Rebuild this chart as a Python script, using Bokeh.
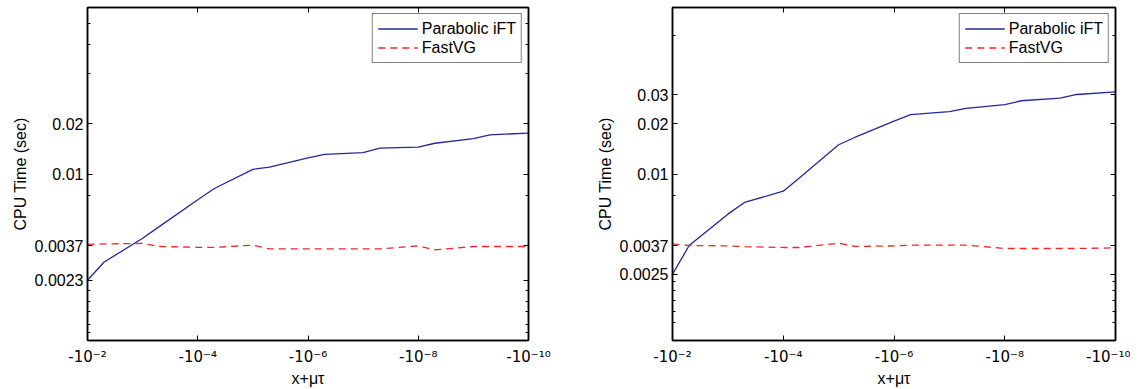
from bokeh.plotting import figure
from bokeh.layouts import row
from bokeh.models import Range1d, FixedTicker, LogAxis
from bokeh.embed import file_html
from bokeh.resources import INLINE

# ---- data ----
x_values = [1e-2, 5e-3, 1e-3, 5e-4, 1e-4, 5e-5, 1e-5, 5e-6, 1e-6,
            5e-7, 1e-7, 5e-8, 1e-8, 5e-9, 1e-9, 5e-10, 1e-10]

left_parabolic = [0.0023, 0.00296, 0.00411, 0.00483, 0.00701, 0.00818, 0.01067, 0.0110, 0.0125,
                  0.0131, 0.01343, 0.0143, 0.01449, 0.0153, 0.0163, 0.0172, 0.0176]
left_fastvg = [0.00378, 0.0038, 0.00383, 0.00367, 0.00363, 0.00362, 0.00374, 0.00355, 0.00355,
               0.00355, 0.00355, 0.00355, 0.0037, 0.0035, 0.00367, 0.00367, 0.00367]

right_parabolic = [0.0025, 0.00372, 0.00574, 0.00675, 0.00788, 0.00952, 0.01498, 0.01663, 0.02075,
                   0.0227, 0.02366, 0.02477, 0.02607, 0.02754, 0.02858, 0.03003, 0.03117]
right_fastvg = [0.0038, 0.00372, 0.0037, 0.00366, 0.00362, 0.00362, 0.00384, 0.00367, 0.0037,
                0.00374, 0.00374, 0.00374, 0.00357, 0.00357, 0.00357, 0.00357, 0.0036]

x_ticks = [1e-2, 1e-4, 1e-6, 1e-8, 1e-10]
x_tick_labels = ["-10\u207b\u00b2", "-10\u207b\u2074", "-10\u207b\u2076", "-10\u207b\u2078", "-10\u207b\u00b9\u2070"]

left_y_ticks = [0.0023, 0.0037, 0.01, 0.02]
left_y_labels = ["0.0023", "0.0037", "0.01", "0.02"]
left_y_minor = [0.00112, 0.00125, 0.0015, 0.00172, 0.002, 0.0074, 0.04, 0.06, 0.08]

right_y_ticks = [0.0025, 0.0037, 0.01, 0.02, 0.03]
right_y_labels = ["0.0025", "0.0037", "0.01", "0.02", "0.03"]
right_y_minor = [0.00128, 0.0015, 0.00174, 0.002, 0.00227, 0.0074, 0.068]

series_names = ["Parabolic iFT", "FastVG"]
x_label = "x+\u03bc\u03c4"
y_label = "CPU Time (sec)"

FONT = "Liberation Sans"
XFONT = "DejaVu Sans"
FS = "16px"
BLUE = "#24289a"
RED = "#f02828"


def style_axis(ax, ticker, labels, font_size=FS, standoff=4, font=FONT):
    ax.ticker = ticker
    ax.axis_line_color = "black"
    ax.axis_line_width = 1.5
    ax.major_tick_line_color = "black"
    ax.minor_tick_line_color = "black"
    ax.major_tick_in = 5
    ax.major_tick_out = 0
    ax.minor_tick_in = 3
    ax.minor_tick_out = 0
    ax.major_label_text_font = font
    ax.major_label_text_color = "black"
    ax.major_label_text_font_size = font_size
    ax.major_label_standoff = standoff
    ax.major_label_overrides = dict(zip(ticker.ticks, labels))


def make_panel(parabolic, fastvg, y_ticks, y_labels, y_minor, border_left, border_right, frame_w):
    p = figure(x_axis_type="log", y_axis_type="log",
               x_range=Range1d(1e-2, 1e-10), y_range=Range1d(0.001, 0.1),
               frame_width=frame_w, frame_height=333,
               min_border_left=border_left, min_border_right=border_right,
               min_border_top=7, min_border_bottom=0,
               output_backend="svg", toolbar_location=None)
    p.xgrid.visible = False
    p.ygrid.visible = False
    p.outline_line_color = "black"
    p.outline_line_width = 1.5
    p.background_fill_color = "white"
    p.border_fill_color = "white"

    xax = p.xaxis[0]
    yax = p.yaxis[0]
    style_axis(xax, FixedTicker(ticks=x_ticks), x_tick_labels, font_size="15px", standoff=7, font=XFONT)
    style_axis(yax, FixedTicker(ticks=y_ticks, minor_ticks=y_minor), y_labels)

    xax.axis_label = x_label
    yax.axis_label = y_label
    for ax in (xax, yax):
        ax.axis_label_text_font = FONT
        ax.axis_label_text_font_size = FS
        ax.axis_label_text_font_style = "normal"
        ax.axis_label_text_color = "black"
    xax.axis_label_standoff = 1
    yax.axis_label_standoff = 3

    top = LogAxis()
    style_axis(top, FixedTicker(ticks=x_ticks), [""] * len(x_ticks), font_size="1px", standoff=0)
    p.add_layout(top, "above")
    right = LogAxis()
    style_axis(right, FixedTicker(ticks=y_ticks, minor_ticks=y_minor), [""] * len(y_ticks),
               font_size="1px", standoff=0)
    p.add_layout(right, "right")

    p.line(x_values, parabolic, line_color=BLUE, line_width=1.3, legend_label=series_names[0])
    p.line(x_values, fastvg, line_color=RED, line_width=1.3, line_dash="7 5",
           legend_label=series_names[1])

    lg = p.legend[0]
    lg.location = "top_right"
    lg.margin = 6
    lg.padding = 5
    lg.spacing = 0
    lg.glyph_width = 40
    lg.glyph_height = 19
    lg.label_height = 19
    lg.label_standoff = 4
    lg.label_text_font = FONT
    lg.label_text_font_size = FS
    lg.label_text_color = "black"
    lg.border_line_color = "black"
    lg.border_line_width = 1.2
    lg.background_fill_alpha = 1
    return p


p_left = make_panel(left_parabolic, left_fastvg, left_y_ticks, left_y_labels, left_y_minor, 87, 65, 441)
p_right = make_panel(right_parabolic, right_fastvg, right_y_ticks, right_y_labels, right_y_minor, 79, 15, 443)

layout = row(p_left, p_right, spacing=0)
open("out.html", "w").write(file_html(layout, INLINE))
